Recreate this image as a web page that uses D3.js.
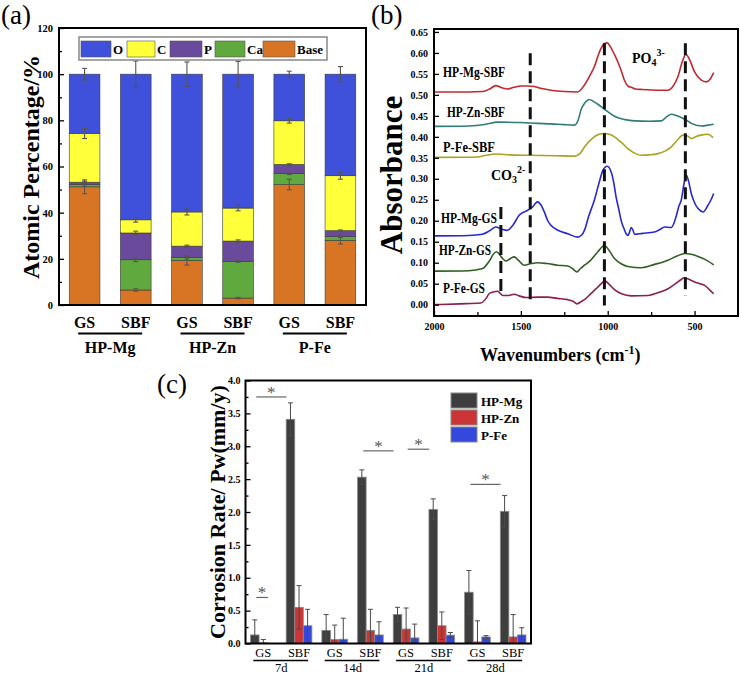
<!DOCTYPE html>
<html><head><meta charset="utf-8">
<script src="https://cdn.jsdelivr.net/npm/d3@7"></script>
<style>
html,body{margin:0;padding:0;background:#fff;}
svg{display:block;font-family:"Liberation Serif","Times New Roman",serif;}
</style></head><body>
<svg id="chart" width="740" height="675"></svg>
<script>
// ================= DATA =================
// Panel (a): atomic percentage (stacked)
const samplesA = ["HP-Mg GS","HP-Mg SBF","HP-Zn GS","HP-Zn SBF","P-Fe GS","P-Fe SBF"];
const condLabelsA = ["GS","SBF","GS","SBF","GS","SBF"];
const alloyLabelsA = ["HP-Mg","HP-Zn","P-Fe"];
const elementsA = ["Base","Ca","P","C","O"];
const legendOrderA = ["O","C","P","Ca","Base"];
const baseVals = [51.2, 6.5, 19.3, 3.0, 52.2, 28.0];
const caVals   = [1.0, 13.1, 1.2, 15.9, 4.7, 1.7];
const pVals    = [1.0, 11.6, 5.0, 8.8, 4.0, 2.5];
const cVals    = [21.1, 5.7, 14.8, 14.3, 18.9, 23.8];
const oVals    = baseVals.map((b,i)=>+(100 - b - caVals[i] - pVals[i] - cVals[i]).toFixed(1));
const baseErr  = [3.0, 0.5, 2.0, 0.3, 2.3, 1.6];
const caErr    = [0.8, 0.8, 0.6, 0.4, 0.4, 0.5];
const pErr     = [0.4, 0.8, 0.4, 0.5, 0.3, 0.3];
const cErr     = [2.2, 1.0, 1.3, 1.2, 1.0, 1.5];
const oErr     = [2.5, 5.7, 5.3, 5.5, 1.3, 3.3];
const yTicksA  = [0,20,40,60,80,100,120];

// Panel (b): FTIR spectra  [wavenumber, absorbance]
const spectraNames = ["HP-Mg-SBF","HP-Zn-SBF","P-Fe-SBF","HP-Mg-GS","HP-Zn-GS","P-Fe-GS"];
const mgSBF = [[2000,0.507],[1800,0.507],[1720,0.508],[1680,0.514],[1644,0.522],[1610,0.517],[1576,0.514],[1540,0.518],[1500,0.521],[1460,0.521],[1423,0.52],[1380,0.515],[1327,0.511],[1250,0.508],[1173,0.507],[1140,0.52],[1100,0.548],[1077,0.567],[1045,0.605],[1020,0.622],[1003,0.624],[985,0.615],[960,0.595],[942,0.579],[920,0.555],[904,0.535],[880,0.52],[865,0.518],[840,0.514],[807,0.513],[700,0.511],[653,0.511],[625,0.52],[596,0.543],[570,0.58],[550,0.597],[530,0.585],[500,0.555],[461,0.535],[433,0.531],[410,0.538],[390,0.553]];
const znSBF = [[2000,0.425],[1800,0.426],[1700,0.43],[1634,0.435],[1500,0.434],[1400,0.432],[1327,0.431],[1250,0.429],[1192,0.428],[1170,0.44],[1154,0.464],[1130,0.482],[1106,0.489],[1080,0.484],[1038,0.472],[1000,0.46],[961,0.449],[900,0.441],[846,0.438],[760,0.437],[692,0.438],[660,0.448],[634,0.454],[600,0.45],[577,0.446],[540,0.438],[519,0.432],[462,0.426],[420,0.428],[390,0.43]];
const feSBF = [[2000,0.351],[1750,0.352],[1700,0.356],[1644,0.359],[1560,0.357],[1461,0.356],[1300,0.355],[1192,0.354],[1160,0.36],[1134,0.376],[1090,0.396],[1050,0.406],[1019,0.408],[990,0.406],[961,0.40],[920,0.386],[884,0.372],[840,0.36],[807,0.356],[760,0.357],[711,0.36],[670,0.366],[634,0.376],[600,0.392],[567,0.404],[540,0.402],[519,0.396],[490,0.401],[462,0.404],[423,0.406],[394,0.398]];
const mgGS = [[2000,0.164],[1800,0.165],[1721,0.168],[1680,0.176],[1644,0.185],[1610,0.18],[1580,0.177],[1545,0.19],[1510,0.213],[1461,0.225],[1432,0.233],[1415,0.242],[1403,0.245],[1385,0.238],[1365,0.221],[1345,0.2],[1327,0.189],[1280,0.176],[1230,0.169],[1173,0.161],[1150,0.166],[1134,0.177],[1110,0.21],[1077,0.249],[1050,0.29],[1028,0.32],[1003,0.33],[980,0.316],[965,0.29],[952,0.257],[935,0.225],[923,0.201],[905,0.18],[894,0.169],[884,0.165],[875,0.172],[865,0.184],[855,0.178],[846,0.168],[800,0.17],[731,0.173],[700,0.179],[673,0.185],[634,0.184],[610,0.205],[590,0.235],[577,0.249],[560,0.29],[548,0.309],[535,0.295],[519,0.265],[500,0.243],[480,0.229],[451,0.221],[423,0.237],[405,0.25],[390,0.265]];
const znGS = [[2000,0.08],[1800,0.081],[1721,0.086],[1680,0.105],[1655,0.122],[1640,0.126],[1620,0.118],[1605,0.11],[1586,0.104],[1560,0.11],[1538,0.114],[1515,0.106],[1480,0.094],[1440,0.098],[1403,0.10],[1350,0.098],[1288,0.094],[1230,0.092],[1200,0.085],[1177,0.078],[1160,0.085],[1134,0.094],[1100,0.105],[1057,0.126],[1019,0.141],[990,0.128],[961,0.11],[920,0.097],[884,0.091],[807,0.088],[730,0.096],[653,0.106],[600,0.116],[557,0.122],[520,0.12],[480,0.115],[440,0.108],[390,0.095]];
const feGS = [[2000,0.0],[1850,0.002],[1731,0.004],[1700,0.015],[1683,0.026],[1660,0.03],[1634,0.032],[1605,0.022],[1570,0.022],[1538,0.025],[1510,0.021],[1471,0.017],[1400,0.018],[1346,0.018],[1290,0.015],[1230,0.012],[1200,0.008],[1177,0.002],[1150,0.008],[1134,0.012],[1100,0.025],[1057,0.042],[1015,0.056],[990,0.048],[961,0.036],[920,0.026],[865,0.021],[769,0.022],[700,0.03],[653,0.038],[610,0.05],[577,0.06],[561,0.064],[530,0.06],[500,0.054],[470,0.05],[442,0.046],[415,0.036],[390,0.026]];
const dashWn     = [1615, 1446, 1019, 553];
const dashTop    = [0.233, 0.599, 0.623, 0.623];
const dashBottom = [0.018, 0.006, -0.002, 0.022];
const yTicksB = [0,0.05,0.10,0.15,0.20,0.25,0.30,0.35,0.40,0.45,0.50,0.55,0.60,0.65];
const xTicksB = [2000,1500,1000,500];
const xMinorB = [1750,1250,750];

// Panel (c): corrosion rate
const groupsC = ["7d GS","7d SBF","14d GS","14d SBF","21d GS","21d SBF","28d GS","28d SBF"];
const condC = ["GS","SBF","GS","SBF","GS","SBF","GS","SBF"];
const daysC = ["7d","14d","21d","28d"];
const seriesC = ["HP-Mg","HP-Zn","P-Fe"];
const mgVals = [0.13, 3.41, 0.20, 2.53, 0.44, 2.04, 0.78, 2.01];
const mgErr  = [0.23, 0.25, 0.24, 0.11, 0.11, 0.16, 0.33, 0.24];
const znVals = [0.01, 0.55, 0.06, 0.20, 0.22, 0.27, 0.025, 0.10];
const znErr  = [0.05, 0.33, 0.22, 0.32, 0.32, 0.21, 0.32, 0.34];
const feVals = [0.0, 0.27, 0.065, 0.13, 0.085, 0.127, 0.10, 0.13];
const feErr  = [0.0, 0.25, 0.32, 0.20, 0.21, 0.04, 0.02, 0.11];
// significance: [fromGroup, fromSeries, toGroup, toSeries, y]
const sigC = [["7d GS","HP-Mg","7d SBF","HP-Mg",3.75],["7d GS","HP-Mg","7d GS","P-Fe",0.70],["14d SBF","HP-Mg","21d GS","HP-Mg",2.93],["21d GS","HP-Zn","21d SBF","HP-Mg",2.955],["28d GS","HP-Mg","28d SBF","HP-Mg",2.42]];
const yTicksC = [0,0.5,1.0,1.5,2.0,2.5,3.0,3.5,4.0];

// ================= DRAW =================
const svg = d3.select("#chart");
svg.append("rect").attr("width",740).attr("height",675).attr("fill","#fff");

// panel letters
[["(a)",1,24],["(b)",371,24],["(c)",157,393]].forEach(([t,x,y])=>{
  svg.append("text").attr("x",x).attr("y",y).attr("font-size",27).text(t);
});

function styleAxis(g, size){
  g.select(".domain").remove();
  g.selectAll(".tick line").attr("stroke","#000").attr("stroke-width",1.3);
  g.selectAll(".tick text").attr("font-family",'"Liberation Serif","Times New Roman",serif')
   .attr("font-weight","bold").attr("font-size",size).attr("fill","#000");
}

// ---------- Panel (a) ----------
const A = {l:59, t:28, r:366, b:305};
const xA = d3.scaleBand().domain(samplesA).range([A.l, A.r]).paddingInner(0.4).paddingOuter(0.2);
const yA = d3.scaleLinear().domain([0,120]).range([A.b, A.t]);
const colorA = {O:"#3f50da", C:"#ffff3a", P:"#6a4a9c", Ca:"#60a93f", Base:"#d87525"};
const valsA = {Base:baseVals, Ca:caVals, P:pVals, C:cVals, O:oVals};
const errA = {Base:baseErr, Ca:caErr, P:pErr, C:cErr, O:oErr};
const rowsA = samplesA.map((s,i)=>{const r={sample:s}; elementsA.forEach(k=>r[k]=valsA[k][i]); return r;});
const stackA = d3.stack().keys(elementsA)(rowsA);
const gA = svg.append("g");
gA.selectAll("g.layer").data(stackA).join("g").attr("class","layer").attr("fill",d=>colorA[d.key])
  .selectAll("rect").data(d=>d).join("rect")
  .attr("x",d=>xA(d.data.sample)).attr("width",xA.bandwidth())
  .attr("y",d=>yA(d[1])).attr("height",d=>yA(d[0])-yA(d[1]))
  .attr("stroke","#3a3a3a").attr("stroke-width",0.6);
// error bars
stackA.forEach(layer=>{
  layer.forEach((d,i)=>{
    const e = errA[layer.key][i];
    const cx = xA(d.data.sample)+xA.bandwidth()/2;
    const y1 = yA(d[1]+e), y2 = yA(d[1]-e);
    const g = gA.append("g").attr("stroke","#555").attr("stroke-width",1.1);
    g.append("line").attr("x1",cx).attr("x2",cx).attr("y1",y1).attr("y2",y2);
    g.append("line").attr("x1",cx-2.5).attr("x2",cx+2.5).attr("y1",y1).attr("y2",y1);
    g.append("line").attr("x1",cx-2.5).attr("x2",cx+2.5).attr("y1",y2).attr("y2",y2);
  });
});
// axes
const axA = svg.append("g").attr("transform",`translate(${A.l},0)`)
  .call(d3.axisLeft(yA).tickValues(yTicksA).tickSize(-5).tickPadding(6));
styleAxis(axA, 10.5);
const axAm = svg.append("g").attr("transform",`translate(${A.l},0)`)
  .call(d3.axisLeft(yA).tickValues([10,30,50,70,90,110]).tickSize(-3).tickFormat(""));
styleAxis(axAm, 10);
gA.append("rect").attr("x",A.l).attr("y",A.t).attr("width",A.r-A.l).attr("height",A.b-A.t)
  .attr("fill","none").attr("stroke","#000").attr("stroke-width",2);
// legend (a)
const legA = svg.append("g");
legA.append("rect").attr("x",79).attr("y",37).attr("width",248).attr("height",23)
  .attr("fill","#fff").attr("stroke","#888").attr("stroke-width",1.5);
const legXA = [81,127,170,215,263];
const legWA = [30,28,32,30,32];
legendOrderA.forEach((k,i)=>{
  legA.append("rect").attr("x",legXA[i]).attr("y",41).attr("width",legWA[i]).attr("height",16)
    .attr("fill",colorA[k]).attr("stroke","#555").attr("stroke-width",0.6);
  legA.append("text").attr("x",legXA[i]+legWA[i]+2).attr("y",54).attr("font-size",13)
    .attr("font-weight","bold").text(k);
});
// x labels (a)
samplesA.forEach((s,i)=>{
  svg.append("text").attr("x",xA(s)+xA.bandwidth()/2).attr("y",328).attr("text-anchor","middle")
    .attr("font-size",16).attr("font-weight","bold").text(condLabelsA[i]);
});
alloyLabelsA.forEach((a,j)=>{
  const c = (xA(samplesA[2*j]) + xA(samplesA[2*j+1]) + xA.bandwidth())/2;
  svg.append("line").attr("x1",c-32).attr("x2",c+32).attr("y1",333.5).attr("y2",333.5)
    .attr("stroke","#000").attr("stroke-width",2);
  svg.append("text").attr("x",c).attr("y",353).attr("text-anchor","middle")
    .attr("font-size",16).attr("font-weight","bold").text(a);
});
svg.append("text").attr("transform",`translate(39,167) rotate(-90)`).attr("text-anchor","middle")
  .attr("font-size",24).attr("font-weight","bold").text("Atomic Percentage/%");

// ---------- Panel (b) ----------
const B = {l:434, t:29, r:738, b:316};
const xB = d3.scaleLinear().domain([2000,250]).range([B.l,B.r]);
const yB = d3.scaleLinear().domain([-0.027,0.657]).range([B.b,B.t]);
const spectra = [mgSBF, znSBF, feSBF, mgGS, znGS, feGS];
const specColors = ["#c3282e","#2f7b78","#aaa122","#2828d2","#2e5f1f","#8c1f50"];
const line = d3.line().x(d=>xB(d[0])).y(d=>yB(d[1])).curve(d3.curveMonotoneX);
const gB = svg.append("g");
spectra.forEach((s,i)=>{
  gB.append("path").attr("d",line(s)).attr("fill","none").attr("stroke",specColors[i]).attr("stroke-width",1.6);
});
dashWn.forEach((w,i)=>{
  gB.append("line").attr("x1",xB(w)).attr("x2",xB(w)).attr("y1",yB(dashTop[i])).attr("y2",yB(dashBottom[i]))
    .attr("stroke","#111").attr("stroke-width",3).attr("stroke-dasharray","12,6");
});
const axB = svg.append("g").attr("transform",`translate(${B.l},0)`)
  .call(d3.axisLeft(yB).tickValues(yTicksB).tickFormat(d3.format(".2f")).tickSize(-5).tickPadding(6));
styleAxis(axB, 10);
const axBx = svg.append("g").attr("transform",`translate(0,${B.b})`)
  .call(d3.axisBottom(xB).tickValues(xTicksB).tickFormat(d3.format("d")).tickSize(-5).tickPadding(7));
styleAxis(axBx, 10);
const axBxm = svg.append("g").attr("transform",`translate(0,${B.b})`)
  .call(d3.axisBottom(xB).tickValues(xMinorB).tickSize(-4).tickFormat(""));
styleAxis(axBxm, 10);
gB.append("rect").attr("x",B.l).attr("y",B.t).attr("width",B.r-B.l).attr("height",B.b-B.t)
  .attr("fill","none").attr("stroke","#000").attr("stroke-width",2);
// curve labels
const specLabelPos = [[443,77],[447,117],[443,152],[441,223],[439,255],[443,293]];
const specLabelW = [62,58,52,56,52,42];
spectraNames.forEach((n,i)=>{
  svg.append("text").attr("x",specLabelPos[i][0]).attr("y",specLabelPos[i][1])
    .attr("font-size",14).attr("font-weight","bold")
    .attr("textLength",specLabelW[i]).attr("lengthAdjust","spacingAndGlyphs").text(n);
});
const co3 = svg.append("text").attr("x",491).attr("y",180).attr("font-size",14).attr("font-weight","bold");
co3.append("tspan").text("CO");
co3.append("tspan").attr("font-size",10).attr("dy",3).text("3");
co3.append("tspan").attr("font-size",10).attr("dy",-10).text("2-");
const po4 = svg.append("text").attr("x",632).attr("y",63).attr("font-size",14).attr("font-weight","bold");
po4.append("tspan").text("PO");
po4.append("tspan").attr("font-size",10).attr("dy",3).text("4");
po4.append("tspan").attr("font-size",10).attr("dy",-10).text("3-");
svg.append("text").attr("transform",`translate(402,175) rotate(-90)`).attr("text-anchor","middle")
  .attr("font-size",31).attr("font-weight","bold").text("Absorbance");
const wl = svg.append("text").attr("x",480).attr("y",361).attr("font-size",18).attr("font-weight","bold");
wl.append("tspan").text("Wavenumbers (cm");
wl.append("tspan").attr("font-size",12).attr("dy",-7).text("-1");
wl.append("tspan").attr("dy",7).text(")");

// ---------- Panel (c) ----------
const C = {l:245.5, t:380.5, r:531, b:643.5};
const xC = d3.scaleBand().domain(groupsC).range([C.l,C.r]);
const x1C = d3.scaleBand().domain(seriesC).range([xC.bandwidth()*0.14, xC.bandwidth()*0.86]);
const yC = d3.scaleLinear().domain([0,4.0]).range([C.b,C.t]);
const colorC = {"HP-Mg":"#3e3e3e","HP-Zn":"#cc3535","P-Fe":"#3448dc"};
const valsC = {"HP-Mg":mgVals,"HP-Zn":znVals,"P-Fe":feVals};
const errC = {"HP-Mg":mgErr,"HP-Zn":znErr,"P-Fe":feErr};
const gC = svg.append("g");
groupsC.forEach((g,i)=>{
  seriesC.forEach(s=>{
    const v = valsC[s][i], e = errC[s][i];
    const x = xC(g)+x1C(s), w = x1C.bandwidth(), cx = x+w/2;
    if (v>0) gC.append("rect").attr("x",x).attr("width",w).attr("y",yC(v)).attr("height",yC(0)-yC(v))
      .attr("fill",colorC[s]).attr("stroke","#8a8a8a").attr("stroke-width",0.8);
    if (e>0){
      const y1 = yC(v+e), y2 = yC(Math.max(0,v-e));
      const eg = gC.append("g").attr("stroke","#4a4a4a").attr("stroke-width",1);
      eg.append("line").attr("x1",cx).attr("x2",cx).attr("y1",y1).attr("y2",y2);
      eg.append("line").attr("x1",cx-2.5).attr("x2",cx+2.5).attr("y1",y1).attr("y2",y1);
      if (v-e>0) eg.append("line").attr("x1",cx-2.5).attr("x2",cx+2.5).attr("y1",y2).attr("y2",y2);
    }
  });
});
sigC.forEach(([g1,s1,g2,s2,y])=>{
  const xa = xC(g1)+x1C(s1)+x1C.bandwidth()/2+1.5, xb = xC(g2)+x1C(s2)+x1C.bandwidth()/2-4;
  gC.append("line").attr("x1",xa).attr("x2",xb).attr("y1",yC(y)).attr("y2",yC(y)).attr("stroke","#666").attr("stroke-width",1.2);
  gC.append("text").attr("x",(xa+xb)/2).attr("y",yC(y)+1).attr("text-anchor","middle")
    .attr("font-size",17).attr("fill","#555").text("*");
});
const axC = svg.append("g").attr("transform",`translate(${C.l},0)`)
  .call(d3.axisLeft(yC).tickValues(yTicksC).tickFormat(d3.format(".1f")).tickSize(-5).tickPadding(5));
styleAxis(axC, 10);
const axCm = svg.append("g").attr("transform",`translate(${C.l},0)`)
  .call(d3.axisLeft(yC).tickValues(yTicksC.slice(0,-1).map(v=>v+0.25)).tickSize(-3).tickFormat(""));
styleAxis(axCm, 10);
gC.append("rect").attr("x",C.l).attr("y",C.t).attr("width",C.r-C.l).attr("height",C.b-C.t)
  .attr("fill","none").attr("stroke","#000").attr("stroke-width",2);
groupsC.forEach((g,i)=>{
  svg.append("text").attr("x",xC(g)+xC.bandwidth()/2).attr("y",656.5).attr("text-anchor","middle")
    .attr("font-size",12.5).text(condC[i]);
});
daysC.forEach((d,j)=>{
  const c1 = xC(groupsC[2*j])+xC.bandwidth()/2, c2 = xC(groupsC[2*j+1])+xC.bandwidth()/2;
  svg.append("line").attr("x1",c1-10).attr("x2",c2+9).attr("y1",660.5).attr("y2",660.5)
    .attr("stroke","#000").attr("stroke-width",1.3);
  svg.append("text").attr("x",(c1+c2)/2).attr("y",672).attr("text-anchor","middle")
    .attr("font-size",12.5).text(d);
});
// legend (c)
seriesC.forEach((s,i)=>{
  svg.append("rect").attr("x",451).attr("y",393+i*17).attr("width",26).attr("height",15)
    .attr("fill",colorC[s]).attr("stroke","#888").attr("stroke-width",1);
  svg.append("text").attr("x",481).attr("y",405.5+i*17).attr("font-size",13).attr("font-weight","bold").text(s);
});
svg.append("text").attr("transform",`translate(225,512) rotate(-90)`).attr("text-anchor","middle")
  .attr("font-size",22).attr("font-weight","bold").text("Corrosion Rate/ Pw(mm/y)");
</script>
</body></html>
